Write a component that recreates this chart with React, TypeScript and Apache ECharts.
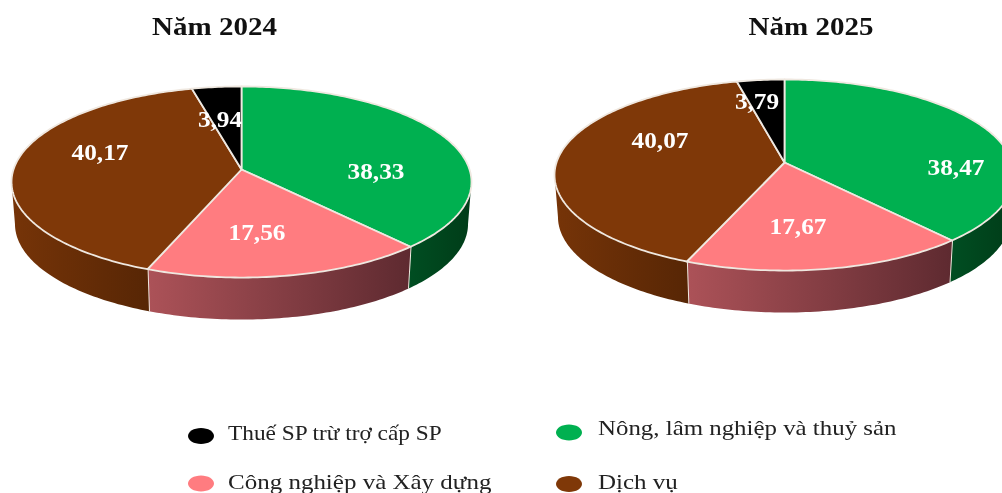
import React, { useEffect, useRef } from "react";
import * as echarts from "echarts";

const sliceNames = ["Nông, lâm nghiệp và thuỷ sản", "Công nghiệp và Xây dựng", "Dịch vụ", "Thuế SP trừ trợ cấp SP"];
const values2024 = [38.33, 17.56, 40.17, 3.94];
const values2025 = [38.47, 17.67, 40.07, 3.79];
const titles = ["Năm 2024", "Năm 2025"];

const TOP_COLORS = ["#00B050", "#FF7C80", "#7F3808", "#000000"];
const WALL_COLORS = [
  ["#004E22", "#003C18"],
  ["#AC5258", "#5E2A30"],
  ["#763408", "#572605"],
  ["#000000", "#000000"],
];
const SEAM = "#EFE8E0";
const SERIF = "'Liberation Serif', 'Times New Roman', serif";

// Perspective disc model: half-width factor, depth factor, tilt, wall depth
const GEOM = { b: 228, a: 93.9, p: 0.1309, depth: 42, bottomScale: 0.985 };
const PIES = [
  { cx: 241.5, cy: 169.5, values: values2024, labels: [[376, 171], [257, 232], [100, 152], [220, 119]] },
  { cx: 784.5, cy: 162.5, values: values2025, labels: [[956, 167], [798, 226], [660, 140], [757, 101]] },
];
const WALL_START = Math.acos(-GEOM.p);
const WALL_END = 2 * Math.PI - WALL_START;

function rim(cx: number, cy: number, t: number) {
  const u = Math.sin(t);
  const v = -Math.cos(t);
  const d = 1 - GEOM.p * v;
  return [cx + (GEOM.b * u) / d, cy + (GEOM.a * v) / d];
}
function arcPoints(cx: number, cy: number, t0: number, t1: number) {
  const n = Math.max(2, Math.ceil(((t1 - t0) * 180) / Math.PI));
  const pts: number[][] = [];
  for (let i = 0; i <= n; i++) pts.push(rim(cx, cy, t0 + ((t1 - t0) * i) / n));
  return pts;
}
function lower(cx: number, pt: number[]) {
  return [cx + (pt[0] - cx) * GEOM.bottomScale, pt[1] + GEOM.depth];
}
function angles(values: number[], i: number) {
  const total = values.reduce((s, x) => s + x, 0);
  const before = values.slice(0, i).reduce((s, x) => s + x, 0);
  return [(before / total) * 2 * Math.PI, ((before + values[i]) / total) * 2 * Math.PI];
}

function wallSeries(pie: (typeof PIES)[number]) {
  return {
    type: "custom",
    coordinateSystem: "none",
    silent: true,
    z: 2,
    data: pie.values.map((v, i) => [v, i]),
    renderItem: (_: unknown, api: any) => {
      const i = api.value(1);
      const [s, e] = angles(pie.values, i);
      const t0 = Math.max(s, WALL_START);
      const t1 = Math.min(e, WALL_END);
      if (t1 <= t0) return { type: "group", children: [] };
      const upper = arcPoints(pie.cx, pie.cy, t0, t1);
      const low = upper.map((q) => lower(pie.cx, q)).reverse();
      // clockwise slices on the front run right to left, so the gradient is reversed
      const children: any[] = [
        {
          type: "polygon",
          shape: { points: [...upper, ...low] },
          style: {
            fill: new echarts.graphic.LinearGradient(0, 0, 1, 0, [
              { offset: 0, color: WALL_COLORS[i][0] },
              { offset: 1, color: WALL_COLORS[i][1] },
            ]),
            stroke: "none",
          },
        },
      ];
      if (e < WALL_END) {
        const top = rim(pie.cx, pie.cy, e);
        children.push({
          type: "polyline",
          shape: { points: [top, lower(pie.cx, top)] },
          style: { stroke: SEAM, lineWidth: 2, fill: "none" },
        });
      }
      return { type: "group", children };
    },
  };
}

function topSeries(pie: (typeof PIES)[number]) {
  return {
    type: "custom",
    coordinateSystem: "none",
    silent: true,
    z: 3,
    data: pie.values.map((v, i) => [v, i]),
    renderItem: (_: unknown, api: any) => {
      const i = api.value(1);
      const [s, e] = angles(pie.values, i);
      const [lx, ly] = pie.labels[i];
      return {
        type: "group",
        children: [
          {
            type: "polygon",
            shape: { points: [[pie.cx, pie.cy], ...arcPoints(pie.cx, pie.cy, s, e)] },
            style: { fill: TOP_COLORS[i], stroke: SEAM, lineWidth: 1.8, lineJoin: "round" },
          },
          {
            type: "text",
            x: lx,
            y: ly,
            scaleX: 1.1,
            z2: 5,
            style: {
              text: api.value(0).toFixed(2).replace(".", ","),
              fill: "#FFFFFF",
              fontFamily: SERIF,
              fontWeight: "bold",
              fontSize: 23,
              align: "center",
              verticalAlign: "middle",
            },
          },
        ],
      };
    },
  };
}

const LEGEND = [
  { i: 3, mx: 201, my: 436, tx: 228, ty: 433, sx: 1.11 },
  { i: 0, mx: 569, my: 432.5, tx: 598, ty: 428, sx: 1.185 },
  { i: 1, mx: 201, my: 483.5, tx: 228, ty: 481.5, sx: 1.19 },
  { i: 2, mx: 569, my: 484, tx: 598, ty: 481.5, sx: 1.19 },
];

export default function App() {
  const ref = useRef<HTMLDivElement>(null);
  useEffect(() => {
    document.body.style.margin = "0";
    const chart = echarts.init(ref.current!, null, { renderer: "svg" });
    chart.setOption({
      animation: false,
      backgroundColor: "#FFFFFF",
      series: PIES.flatMap((p) => [wallSeries(p), topSeries(p)]),
      graphic: [
        ...titles.map((t, k) => ({
          type: "text",
          x: k === 0 ? 214.5 : 811,
          y: 27,
          scaleX: 1.16,
          style: {
            text: t,
            fill: "#111111",
            fontFamily: SERIF,
            fontWeight: "bold",
            fontSize: 25,
            align: "center",
            verticalAlign: "middle",
          },
        })),
        ...LEGEND.flatMap((l) => [
          {
            type: "ellipse",
            shape: { cx: l.mx, cy: l.my, rx: 13, ry: 8 },
            style: { fill: TOP_COLORS[l.i] },
          },
          {
            type: "text",
            x: l.tx,
            y: l.ty,
            scaleX: l.sx,
            style: {
              text: sliceNames[l.i],
              fill: "#222222",
              fontFamily: SERIF,
              fontSize: 21,
              align: "left",
              verticalAlign: "middle",
            },
          },
        ]),
      ],
    });
    return () => chart.dispose();
  }, []);
  return (
    <div
      ref={ref}
      style={{ position: "absolute", left: 0, top: 0, width: 1002, height: 493, overflow: "hidden", filter: "blur(0.4px)" }}
    />
  );
}
